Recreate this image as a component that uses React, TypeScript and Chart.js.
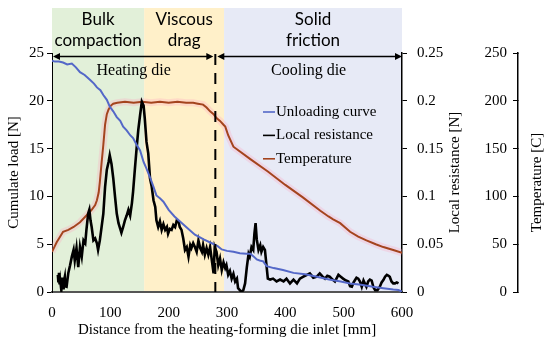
import React, { useEffect, useRef } from 'react';
import { Chart, registerables } from 'chart.js';

Chart.register(...registerables);

// ---------------- data ----------------
const unloadX = [
  0, 5, 12, 19, 26, 34, 41, 48, 56, 65,
  72, 77, 83, 88, 94, 99, 105, 111, 117, 122,
  128, 134, 139, 145, 151, 157, 162, 168, 174, 179,
  185, 191, 200, 210, 219, 230, 245, 260, 274, 284,
  291, 300, 311, 322, 333, 340, 346, 351, 356, 362,
  368, 380, 396, 414, 434, 454, 475, 495, 511, 530,
  550, 568, 585, 594, 600,
];
const unloadY = [
  24.2, 24.1, 24.1, 24.0, 23.8, 23.9, 23.5, 23.0, 22.7, 22.2,
  21.8, 21.4, 21.1, 20.6, 20.1, 19.4, 18.9, 18.3, 17.9, 17.3,
  16.9, 16.4, 16.1, 15.4, 14.8, 13.6, 12.9, 12.0, 11.0, 10.1,
  9.8, 9.45, 8.6, 7.9, 7.4, 6.8, 6.0, 5.5, 5.1, 4.8,
  4.45, 4.3, 4.2, 4.05, 4.0, 4.0, 3.7, 3.4, 3.3, 3.2,
  2.7, 2.5, 2.3, 2.0, 1.85, 1.6, 1.3, 1.1, 0.9, 0.75,
  0.55, 0.4, 0.25, 0.2, 0.05,
];

const resistX = [
  10, 11, 12, 13, 14, 16, 18, 19, 20, 22,
  23, 25, 28, 31, 34, 37, 39, 42, 45, 48,
  51, 54, 57, 59, 62, 64, 66, 68, 71, 74,
  77, 79, 82, 85, 88, 91, 94, 97, 99, 102,
  105, 108, 111, 114, 117, 119, 122, 125, 128, 131,
  134, 137, 139, 142, 145, 148, 151, 154, 157, 159,
  162, 165, 168, 171, 174, 177, 179, 182, 185, 188,
  191, 194, 197, 199, 202, 205, 208, 211, 214, 217,
  219, 222, 225, 228, 231, 234, 237, 239, 242, 245,
  248, 251, 254, 257, 259, 262, 265, 268, 271, 274,
  277, 279, 282, 285, 288, 291, 294, 297, 299, 302,
  305, 308, 311, 314, 317, 319, 322, 325, 328, 331,
  334, 337, 339, 342, 345, 347, 349, 351, 354, 357,
  359, 362, 365, 368, 370, 374, 379, 385, 391, 397,
  402, 408, 414, 420, 425, 431, 437, 442, 448, 454,
  459, 464, 468, 472, 476, 481, 485, 491, 495, 499,
  504, 508, 511, 514, 517, 519, 522, 525, 528, 531,
  534, 537, 539, 542, 545, 548, 551, 554, 558, 562,
  565, 568, 571, 574, 577, 579, 582, 585, 588, 591,
  594,
];
const resistY = [
  0.018, 0.010, 0.020, 0.008, 0.0125, 0.002, 0.015, 0.004, 0.010, 0.016,
  0.006, 0.0055, 0.020, 0.028, 0.037, 0.044, 0.033, 0.046, 0.026, 0.047,
  0.037, 0.054, 0.051, 0.065, 0.082, 0.086, 0.075, 0.068, 0.054, 0.056,
  0.051, 0.044, 0.054, 0.068, 0.082, 0.110, 0.128, 0.136, 0.143, 0.134,
  0.119, 0.100, 0.082, 0.072, 0.066, 0.062, 0.068, 0.075, 0.080, 0.086,
  0.080, 0.093, 0.105, 0.128, 0.150, 0.170, 0.185, 0.199, 0.195, 0.182,
  0.157, 0.145, 0.119, 0.110, 0.096, 0.089, 0.075, 0.068, 0.074, 0.065,
  0.071, 0.065, 0.068, 0.061, 0.066, 0.065, 0.070, 0.068, 0.075, 0.074,
  0.068, 0.065, 0.056, 0.044, 0.047, 0.037, 0.049, 0.046, 0.051, 0.047,
  0.042, 0.054, 0.046, 0.042, 0.049, 0.039, 0.046, 0.039, 0.047, 0.033,
  0.0195, 0.047, 0.042, 0.028, 0.035, 0.023, 0.031, 0.025, 0.028, 0.018,
  0.022, 0.014, 0.019, 0.011, 0.014, 0.004, 0.002, 0.000, 0.002, 0.009,
  0.026, 0.040, 0.037, 0.047, 0.044, 0.061, 0.072, 0.055, 0.044, 0.049,
  0.042, 0.047, 0.044, 0.026, 0.014, 0.013, 0.014, 0.011, 0.013, 0.011,
  0.014, 0.009, 0.013, 0.009, 0.014, 0.016, 0.018, 0.0195, 0.015, 0.016,
  0.0195, 0.016, 0.014, 0.017, 0.016, 0.013, 0.011, 0.018, 0.016, 0.014,
  0.012, 0.011, 0.006, 0.0055, 0.010, 0.012, 0.015, 0.014, 0.011, 0.0055,
  0.012, 0.008, 0.0055, 0.011, 0.013, 0.012, 0.005, 0.002, 0.002, 0.0055,
  0.010, 0.0125, 0.016, 0.018, 0.017, 0.016, 0.011, 0.009, 0.009, 0.010,
  0.009,
];

const tempX = [
  0, 4, 8, 13, 19, 28, 37, 48, 59, 68,
  74, 77, 80, 82, 85, 88, 91, 94, 97, 101,
  105, 112, 125, 140, 155, 170, 185, 200, 215, 230,
  242, 250, 259, 265, 271, 277, 282, 288, 294, 297,
  302, 311, 340, 370, 400, 430, 460, 474, 482, 494,
  511, 525, 539, 555, 568, 585, 600,
];
const tempY = [
  42, 47, 52, 57, 63, 65, 68, 73, 80, 86,
  91, 96, 104, 115, 135, 154, 175, 186, 191, 195,
  197, 198, 199, 198, 199, 198, 199, 198, 199, 198,
  198, 197, 196, 193, 189, 186, 182, 179, 175, 173,
  164, 152, 139, 126, 112, 99, 85, 79, 76, 72,
  63, 58, 54, 50, 47, 44, 41,
];

const seriesNames = ['Unloading curve', 'Local resistance', 'Temperature'];
const seriesColors = ['#5468C8', '#000000', '#A4441E'];

const regionBounds = [0, 158, 295, 600];
const regionLabels = [['Bulk', 'compaction'], ['Viscous', 'drag'], ['Solid', 'friction']];
const regionColors = ['#E2F0D9', '#FFF0C9', '#E7EAF6'];

const dieBoundary = 280;
const dieLabels = ['Heating die', 'Cooling die'];
const arrowLevel = 24.7;

const axisTitles = {
  x: 'Distance from the heating-forming die inlet [mm]',
  load: 'Cumulate load [N]',
  resist: 'Local resistance [N]',
  temp: 'Temperature [C]',
};

const SERIF = "'Liberation Serif', 'Times New Roman', serif";

const toPoints = (xs: number[], ys: number[]) => xs.map((x, i) => ({ x, y: ys[i] }));

const annotPlugin = {
  id: 'annot',
  beforeDraw(chart: any) {
    const { ctx, chartArea, scales } = chart;
    const xs = scales.x;
    ctx.save();
    for (let i = 0; i < regionColors.length; i++) {
      const x0 = xs.getPixelForValue(regionBounds[i]);
      const x1 = xs.getPixelForValue(regionBounds[i + 1]);
      ctx.fillStyle = regionColors[i];
      ctx.fillRect(x0, 8, x1 - x0, chartArea.bottom - 8);
      ctx.fillStyle = '#000';
      ctx.font = "17px Lato, 'Noto Sans', sans-serif";
      ctx.textAlign = 'center';
      ctx.textBaseline = 'alphabetic';
      ctx.fillText(regionLabels[i][0], (x0 + x1) / 2, 25);
      ctx.fillText(regionLabels[i][1], (x0 + x1) / 2, 45.5);
    }
    ctx.restore();
  },
  afterDraw(chart: any) {
    const { ctx, chartArea, scales } = chart;
    const xs = scales.x;
    const ys = scales.y;
    ctx.save();
    // arrows
    const ay = Math.round(ys.getPixelForValue(arrowLevel)) + 0.5;
    const xa = xs.getPixelForValue(0);
    const xm = xs.getPixelForValue(dieBoundary);
    const xb = xs.getPixelForValue(600);
    const drawArrow = (p0: number, p1: number) => {
      ctx.strokeStyle = '#000';
      ctx.fillStyle = '#000';
      ctx.lineWidth = 1.5;
      ctx.beginPath();
      ctx.moveTo(p0 + 4, ay);
      ctx.lineTo(p1 - 4, ay);
      ctx.stroke();
      ctx.beginPath();
      ctx.moveTo(p0, ay);
      ctx.lineTo(p0 + 7, ay - 3.5);
      ctx.lineTo(p0 + 7, ay + 3.5);
      ctx.closePath();
      ctx.fill();
      ctx.beginPath();
      ctx.moveTo(p1, ay);
      ctx.lineTo(p1 - 7, ay - 3.5);
      ctx.lineTo(p1 - 7, ay + 3.5);
      ctx.closePath();
      ctx.fill();
    };
    drawArrow(xa + 1, xm - 2);
    drawArrow(xm + 2, xb);
    ctx.font = `16px ${SERIF}`;
    ctx.textAlign = 'center';
    ctx.textBaseline = 'middle';
    ctx.fillText(dieLabels[0], (xa + xm) / 2, ay + 14);
    ctx.fillText(dieLabels[1], (xm + xb) / 2, ay + 14);

    // legend
    ctx.font = `15px ${SERIF}`;
    ctx.textAlign = 'left';
    const lx = chartArea.left + 211;
    const ly = chartArea.top + 59;
    seriesNames.forEach((name, i) => {
      const yy = ly + i * 23.4;
      ctx.strokeStyle = seriesColors[i];
      ctx.lineWidth = 1.6;
      ctx.beginPath();
      ctx.moveTo(lx, yy);
      ctx.lineTo(lx + 12, yy);
      ctx.stroke();
      ctx.fillStyle = '#000';
      ctx.fillText(name, lx + 13, yy);
    });

    // right axis titles (rotated bottom-to-top)
    const drawV = (text: string, x: number, y: number) => {
      ctx.save();
      ctx.translate(x, y);
      ctx.rotate(-Math.PI / 2);
      ctx.textAlign = 'center';
      ctx.textBaseline = 'middle';
      ctx.fillStyle = '#000';
      ctx.font = `15px ${SERIF}`;
      ctx.fillText(text, 0, 0);
      ctx.restore();
    };
    drawV(axisTitles.resist, chartArea.right + 53, (chartArea.top + chartArea.bottom) / 2);
    drawV(axisTitles.temp, scales.yT.left + 19, (chartArea.top + chartArea.bottom) / 2 + 10);
    ctx.restore();
  },
};

export default function App() {
  const ref = useRef<HTMLCanvasElement | null>(null);

  useEffect(() => {
    const canvas = ref.current;
    if (!canvas) return;
    const tickFont = { family: SERIF, size: 15 };
    const chart = new Chart(canvas, {
      type: 'line',
      data: {
        datasets: [
          {
            label: 'boundary',
            data: [{ x: dieBoundary, y: arrowLevel + 0.2 }, { x: dieBoundary, y: 0 }],
            yAxisID: 'y',
            borderColor: '#000',
            borderWidth: 2,
            borderDash: [11, 8],
            pointRadius: 0,
            order: 0,
          },
          {
            label: seriesNames[0],
            data: toPoints(unloadX, unloadY),
            yAxisID: 'y',
            borderColor: seriesColors[0],
            borderWidth: 2,
            pointRadius: 0,
            order: 1,
          },
          {
            label: seriesNames[1],
            data: toPoints(resistX, resistY),
            yAxisID: 'yR',
            borderColor: seriesColors[1],
            borderWidth: 2.6,
            pointRadius: 0,
            order: 2,
          },
          {
            label: seriesNames[2],
            data: toPoints(tempX, tempY),
            yAxisID: 'yT',
            borderColor: seriesColors[2],
            borderWidth: 2,
            pointRadius: 0,
            order: 3,
          },
          {
            label: 'glow',
            data: toPoints(tempX, tempY),
            yAxisID: 'yT',
            borderColor: 'rgba(255,160,190,0.28)',
            borderWidth: 7,
            pointRadius: 0,
            order: 4,
          },
        ],
      },
      options: {
        responsive: false,
        animation: false,
        events: [],
        layout: { padding: { top: 53, left: 0, right: 0, bottom: 0 } },
        plugins: { legend: { display: false }, tooltip: { enabled: false } },
        scales: {
          x: {
            type: 'linear',
            min: 0,
            max: 600,
            ticks: { stepSize: 100, font: tickFont, color: '#000', padding: 4 },
            grid: { display: false },
            border: { display: true, color: '#555', width: 2 },
            title: { display: true, text: axisTitles.x, font: tickFont, color: '#000', padding: { top: 0, bottom: 5 } },
            afterFit: (s: any) => { s.height = 52; },
          },
          y: {
            position: 'left',
            min: 0,
            max: 25,
            ticks: { stepSize: 5, font: tickFont, color: '#000', padding: 3 },
            grid: { drawOnChartArea: false, color: '#000', tickLength: 5 },
            border: { display: true, color: '#000', width: 1 },
            title: { display: true, text: axisTitles.load, font: tickFont, color: '#000', padding: { top: 5, bottom: 0 } },
            afterFit: (s: any) => { s.width = 52; },
          },
          yR: {
            position: 'right',
            min: 0,
            max: 0.25,
            ticks: {
              stepSize: 0.05,
              font: tickFont,
              color: '#000',
              padding: 10,
              callback: (v: any) => String(+Number(v).toFixed(2)),
            },
            grid: { drawOnChartArea: false, color: '#000', tickLength: 5 },
            border: { display: true, color: '#000', width: 1.5 },
            afterFit: (s: any) => { s.width = 116; },
          },
          yT: {
            position: 'right',
            min: 0,
            max: 250,
            ticks: { stepSize: 50, font: tickFont, color: '#000', padding: -11, mirror: true },
            grid: { drawOnChartArea: false, color: '#000', tickLength: -5 },
            border: { display: true, color: '#000', width: 1.5 },
            afterFit: (s: any) => { s.width = 32; },
          },
        },
      } as any,
      plugins: [annotPlugin],
    });
    return () => chart.destroy();
  }, []);

  return (
    <div style={{ position: 'absolute', left: 0, top: 0, width: 550, height: 344, background: '#fff' }}>
      <canvas ref={ref} width={550} height={344} style={{ display: 'block' }} />
    </div>
  );
}
